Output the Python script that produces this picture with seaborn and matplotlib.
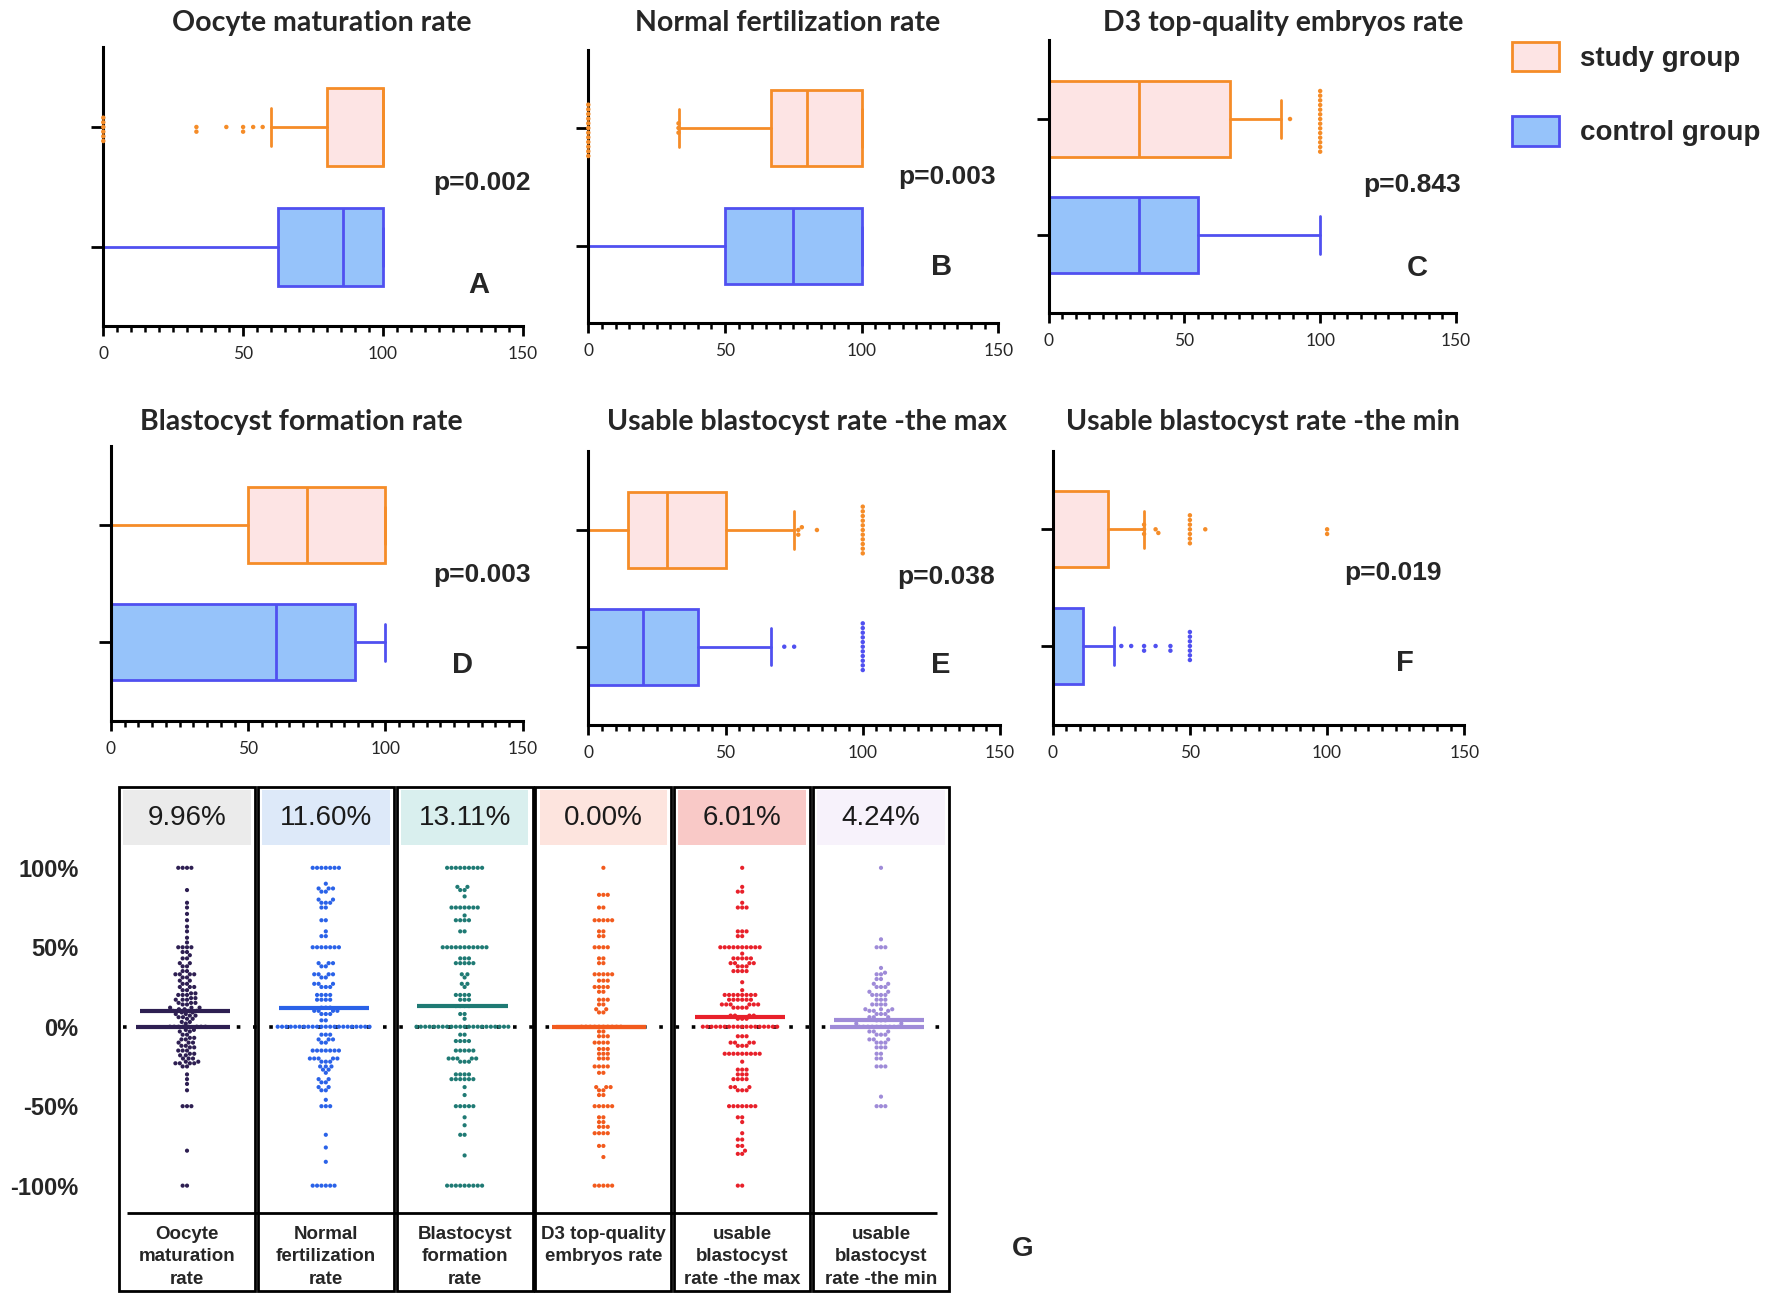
import matplotlib
matplotlib.use('Agg')
import matplotlib.pyplot as plt
from matplotlib.patches import Patch, Rectangle
from matplotlib.ticker import MultipleLocator
import seaborn as sns
import pandas as pd
import numpy as np

W, H = 1772, 1310

# ---------------- data: panels A-F (box plots) ----------------
titles = ['Oocyte maturation rate', 'Normal fertilization rate', 'D3 top-quality embryos rate',
          'Blastocyst formation rate', 'Usable blastocyst rate -the max', 'Usable blastocyst rate -the min']
letters = ['A', 'B', 'C', 'D', 'E', 'F']
p_values = ['p=0.002', 'p=0.003', 'p=0.843', 'p=0.003', 'p=0.038', 'p=0.019']
groups = ['study group', 'control group']

# whisker low, q1, median, q3, whisker high
study_box = [[60, 80, 100, 100, 100],
             [33.3, 66.7, 80, 100, 100],
             [0, 0, 33.3, 66.7, 85.7],
             [0, 50, 71.4, 100, 100],
             [0, 14.3, 28.6, 50, 75],
             [0, 0, 0, 20, 33.3]]
control_box = [[0, 62.5, 85.7, 100, 100],
               [0, 50, 75, 100, 100],
               [0, 0, 33.3, 55, 100],
               [0, 0, 60, 88.9, 100],
               [0, 0, 20, 40, 66.7],
               [0, 0, 0, 11.1, 22.2]]
# outliers
study_out = [[0, 0, 0, 0, 0, 0, 33.3, 33.3, 44, 50, 50, 53.6, 57],
             [0] * 12 + [33, 33, 33],
             [88.9] + [100] * 14,
             [],
             [76.5, 76.5, 77.8, 83.3] + [100] * 11,
             [33.3, 33.3, 33.3, 37.5, 38.5] + [50] * 7 + [55.6, 100, 100]]
control_out = [[],
               [],
               [],
               [],
               [71.4, 75] + [100] * 11,
               [25, 28.6, 33.3, 33.3, 37.5, 42.9, 42.9] + [50] * 7]

# ---------------- data: panel G (paired differences, value: count) ----------------
g_names = ['Oocyte\nmaturation\nrate', 'Normal\nfertilization\nrate', 'Blastocyst\nformation\nrate',
           'D3 top-quality\nembryos rate', 'usable\nblastocyst\nrate -the max', 'usable\nblastocyst\nrate -the min']
g_means = [9.96, 11.60, 13.11, 0.00, 6.01, 4.24]
g_header = ['9.96%', '11.60%', '13.11%', '0.00%', '6.01%', '4.24%']
g_median_line = [0, None, None, 0, None, 0]

oocyte_diff = {100: 4, 86: 1, 78: 1, 75: 1, 71: 1, 67: 1, 63: 1, 60: 1, 56: 1, 53: 1, 50: 4, 47: 2,
               45: 1, 43: 2, 40: 2, 38: 2, 35: 2, 33: 4, 31: 2, 29: 2, 27: 2, 25: 3, 23: 2, 21: 2,
               20: 3, 18: 2, 17: 3, 15: 3, 14: 2, 12: 3, 11: 2, 10: 3, 9: 2, 8: 2, 7: 2, 6: 2, 5: 2,
               3: 2, 2: 1, 0: 8, -2: 2, -3: 2, -5: 2, -7: 2, -8: 2, -10: 3, -12: 2, -13: 2, -15: 3,
               -17: 2, -18: 2, -20: 3, -22: 2, -23: 4, -25: 2, -30: 1, -33: 1, -36: 1, -40: 1,
               -50: 3, -78: 1, -100: 2}
fert_diff = {100: 7, 90: 1, 87: 3, 85: 2, 80: 2, 78: 3, 75: 2, 67: 2, 60: 1, 57: 2, 50: 7, 40: 3,
             38: 2, 33: 4, 31: 2, 27: 3, 25: 3, 20: 4, 17: 4, 12: 3, 10: 4, 8: 3, 4: 2, 0: 22,
             -5: 3, -8: 3, -10: 2, -15: 7, -20: 5, -22: 3, -25: 3, -27: 2, -29: 1, -33: 2, -35: 2,
             -38: 2, -40: 2, -46: 1, -50: 3, -68: 1, -76: 1, -85: 1, -100: 6}
blast_diff = {100: 9, 88: 2, 86: 2, 82: 1, 75: 7, 70: 1, 67: 4, 60: 2, 50: 11, 43: 3, 40: 5,
              33: 2, 31: 1, 27: 2, 25: 1, 20: 4, 17: 3, 13: 4, 8: 2, 5: 1, 0: 22, -5: 2, -9: 4,
              -15: 5, -20: 5, -22: 3, -30: 4, -33: 6, -38: 1, -43: 1, -50: 5, -57: 1, -62: 1,
              -68: 2, -81: 1, -100: 9}
d3_diff = {100: 1, 83: 3, 75: 2, 67: 5, 60: 2, 57: 2, 50: 4, 43: 2, 40: 2, 33: 5, 29: 3, 25: 4,
           22: 2, 17: 3, 14: 2, 11: 2, 9: 2, 0: 10, -3: 2, -6: 3, -10: 4, -14: 3, -17: 3, -20: 3,
           -25: 4, -29: 2, -38: 3, -40: 2, -43: 2, -50: 5, -57: 2, -60: 2, -63: 3, -67: 4,
           -75: 2, -82: 1, -100: 5}
max_diff = {100: 1, 88: 1, 85: 2, 78: 1, 75: 3, 60: 3, 57: 2, 50: 10, 46: 1, 43: 5, 40: 4, 38: 3,
            35: 4, 28: 1, 23: 1, 20: 8, 17: 6, 14: 6, 12: 4, 7: 4, 5: 3, 0: 18, -6: 3, -10: 4,
            -12: 3, -17: 9, -22: 1, -27: 3, -30: 3, -33: 4, -38: 3, -40: 3, -50: 7, -57: 2,
            -60: 1, -67: 1, -71: 2, -75: 2, -78: 1, -80: 2, -100: 2}
min_diff = {100: 1, 55: 1, 50: 3, 37: 1, 34: 1, 33: 2, 30: 2, 27: 2, 25: 3, 22: 2, 20: 4, 17: 3,
            14: 4, 11: 3, 10: 3, 8: 3, 6: 3, 4: 3, 2: 2, 0: 10, -3: 3, -5: 3, -8: 3, -10: 3,
            -13: 3, -17: 2, -20: 2, -25: 3, -44: 1, -50: 3}
g_data = [oocyte_diff, fert_diff, blast_diff, d3_diff, max_diff, min_diff]

# ---------------- style ----------------
study_fill, study_edge = '#fde4e4', '#f58c28'
control_fill, control_edge = '#96c3fa', '#5050f0'
g_colors = ['#2e1f52', '#2a62e8', '#1f7a74', '#f25a1d', '#e8202a', '#9f8bd8']
g_head_bg = ['#ebebeb', '#dde9f9', '#d9efee', '#fde4de', '#f9c9c7', '#f7f2fb']
ARIAL = ['Liberation Sans', 'DejaVu Sans']

sns.set_theme(style='ticks')
plt.rcParams['font.family'] = ['Lato', 'DejaVu Sans']

# layout in pixels: (x at 0, x at 150, axis top, axis bottom, study centre, control centre)
box_layout = [(103.3, 522.7, 47, 325.7, 127, 247),
              (588.3, 998.3, 50, 322.7, 128, 246),
              (1048.5, 1456, 40, 312.7, 119, 235),
              (111, 522.7, 446, 720.7, 525.3, 642.3),
              (588.3, 1000, 451, 725, 530, 646.7),
              (1052.7, 1464.3, 451, 725, 529.3, 646)]
title_xy = [(322, 23), (788, 23), (1283, 23), (301, 422), (807, 422), (1263, 422)]
p_xy = [(433, 183), (898, 177), (1363, 185), (433, 575), (897, 577), (1344, 573)]
letter_xy = [(479, 285), (942, 267), (1417, 268), (463, 665), (941, 665), (1405, 663)]

fig = plt.figure(figsize=(W / 100, H / 100), dpi=100)


def fx(px):
    return px / W


def fy(py):
    return 1 - py / H


def five(s):
    return dict(whislo=s[0], q1=s[1], med=s[2], q3=s[3], whishi=s[4], fliers=[])


for i in range(6):
    x0, x1, yt, yb, ys, yc = box_layout[i]
    ax = fig.add_axes([fx(x0), fy(yb), (x1 - x0) / W, (yb - yt) / H])
    for pos, st, fill, edge in [(0, study_box[i], study_fill, study_edge),
                                (1, control_box[i], control_fill, control_edge)]:
        arts = ax.bxp([five(st)], positions=[pos], widths=0.65, orientation='horizontal',
                      patch_artist=True, showfliers=False, capwidths=0.32, manage_ticks=False,
                      boxprops=dict(facecolor=fill, edgecolor=edge, linewidth=2),
                      medianprops=dict(color=edge, linewidth=2),
                      whiskerprops=dict(color=edge, linewidth=2),
                      capprops=dict(color=edge, linewidth=2))
        for group in arts.values():
            for a in group:
                a.set_clip_on(False)
    out = pd.DataFrame({'group': [groups[0]] * len(study_out[i]) + [groups[1]] * len(control_out[i]),
                        'value': study_out[i] + control_out[i]})
    if len(out):
        sns.swarmplot(data=out, x='value', y='group', hue='group', order=groups, hue_order=groups,
                      palette=[study_edge, control_edge], size=3.2, ax=ax, legend=False,
                      clip_on=False)
    unit = yc - ys
    ax.set_ylim(1 + (yb - yc) / unit, -(ys - yt) / unit)
    ax.set_xlim(0, 150)
    ax.set_xlabel('')
    ax.set_ylabel('')
    ax.set_yticks([0, 1])
    ax.set_yticklabels([])
    ax.set_xticks([0, 50, 100, 150])
    ax.xaxis.set_minor_locator(MultipleLocator(5))
    ax.tick_params(axis='y', length=9, width=2, color='black')
    ax.tick_params(axis='x', which='major', length=7.5, width=2, color='black',
                   labelsize=12.5, pad=7)
    ax.tick_params(axis='x', which='minor', length=4, width=1.8, color='black')
    sns.despine(ax=ax)
    for s in ['left', 'bottom']:
        ax.spines[s].set_linewidth(2.2)
        ax.spines[s].set_color('black')
    ax.set_facecolor('none')

    fig.text(fx(title_xy[i][0]), fy(title_xy[i][1]), titles[i], ha='center', va='center',
             fontsize=20.5, fontweight='bold')
    fig.text(fx(p_xy[i][0]), fy(p_xy[i][1]), p_values[i], ha='left', va='center',
             fontsize=19, fontweight='bold', family=ARIAL)
    fig.text(fx(letter_xy[i][0]), fy(letter_xy[i][1]), letters[i], ha='center', va='center',
             fontsize=21, fontweight='bold', family=ARIAL)

# legend
handles = [Patch(facecolor=study_fill, edgecolor=study_edge, linewidth=2, label=groups[0]),
           Patch(facecolor=control_fill, edgecolor=control_edge, linewidth=2, label=groups[1])]
fig.legend(handles=handles, loc='upper left', bbox_to_anchor=(fx(1512), fy(42)), frameon=False,
           handlelength=1.7, handleheight=1.25, handletextpad=0.75, labelspacing=1.6,
           borderpad=0, borderaxespad=0,
           prop=dict(family=ARIAL, weight='bold', size=20))

# ---------------- panel G ----------------
rows = []
for name, d in zip(g_names, g_data):
    for v, c in d.items():
        rows += [(name, v)] * c
g_df = pd.DataFrame(rows, columns=['metric', 'diff'])

gx0, gx1, gy0, gy1 = 119, 949, 787, 1291
axg = fig.add_axes([fx(gx0), fy(gy1), (gx1 - gx0) / W, (gy1 - gy0) / H])
axg.hlines(0, -0.46, 5.44, color='black', linestyle=(0, (1, 3.5)), linewidth=2.6, zorder=1)
sns.swarmplot(data=g_df, x='metric', y='diff', hue='metric', order=g_names, hue_order=g_names,
              palette=g_colors, size=3.0, ax=axg, legend=False, zorder=3)
for i in range(6):
    axg.hlines(g_means[i], i - 0.34, i + 0.31, color=g_colors[i], linewidth=3, zorder=4)
    if g_median_line[i] is not None:
        axg.hlines(g_median_line[i], i - 0.37, i + 0.31, color=g_colors[i], linewidth=3, zorder=4)
    axg.add_patch(Rectangle((i - 0.49, -166.3), 0.98, 317.1, fill=False, edgecolor='black',
                            linewidth=2, clip_on=False, zorder=5))
    axg.add_patch(Rectangle((i - 0.46, 114.3), 0.92, 34.7, facecolor=g_head_bg[i],
                            edgecolor='none', zorder=0))
    axg.text(i, 131.3, g_header[i], ha='center', va='center', fontsize=20,
             family=ARIAL, color='#1a1a1a')
    axg.text(i, -125.5, g_names[i], ha='center', va='top', fontsize=13.5, fontweight='bold',
             linespacing=1.4, family=ARIAL)
axg.hlines(-117.4, -0.43, 5.40, color='black', linewidth=2, zorder=5)
axg.set_xlim(-0.49, 5.49)
axg.set_ylim(-166.3, 150.85)
axg.set_xticks([])
axg.set_yticks([-100, -50, 0, 50, 100])
axg.set_yticklabels(['-100%', '-50%', '0%', '50%', '100%'], fontsize=17, fontweight='bold',
                    family=ARIAL)
axg.tick_params(axis='y', length=0, pad=29)
axg.set_xlabel('')
axg.set_ylabel('')
for s in axg.spines.values():
    s.set_visible(False)
axg.set_facecolor('none')

fig.text(fx(1023), fy(1249), 'G', ha='center', va='center', fontsize=20, fontweight='bold',
         family=ARIAL)

fig.savefig('out.png', dpi=100, facecolor='white')
